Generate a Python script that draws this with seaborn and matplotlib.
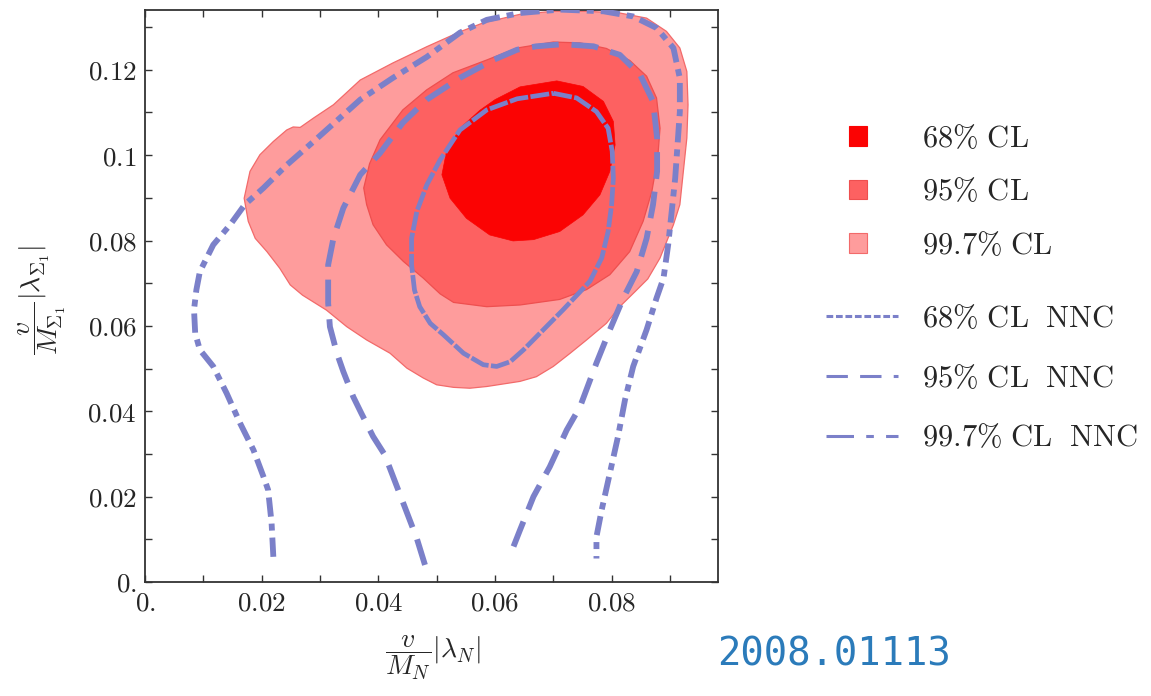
import matplotlib
matplotlib.use("Agg")
import matplotlib.pyplot as plt
from matplotlib.patches import Patch
from matplotlib.lines import Line2D
from matplotlib.ticker import MultipleLocator
import seaborn as sns

# Values
# x = v/M_N |lambda_N|,  y = v/M_Sigma1 |lambda_Sigma1|

# 99.7% CL region (outline)
cl997_x = [0.0170, 0.0180, 0.0197, 0.0220, 0.0243, 0.0254, 0.0266, 0.0289, 0.0323, 0.0369,
           0.0425, 0.0483, 0.0540, 0.0580, 0.0643, 0.0700, 0.0757, 0.0814, 0.0860, 0.0894,
           0.0917, 0.0929, 0.0931, 0.0929, 0.0923, 0.0917, 0.0906, 0.0883, 0.0862, 0.0840,
           0.0814, 0.0791, 0.0757, 0.0729, 0.0700, 0.0671, 0.0643, 0.0586, 0.0557, 0.0529,
           0.0500, 0.0477, 0.0449, 0.0420, 0.0380, 0.0346, 0.0311, 0.0270, 0.0249, 0.0231,
           0.0209, 0.0189, 0.0177]
cl997_y = [0.0899, 0.0962, 0.1001, 0.1032, 0.1059, 0.1066, 0.1065, 0.1087, 0.1118, 0.1176,
           0.1216, 0.1254, 0.1289, 0.1310, 0.1330, 0.1337, 0.1337, 0.1333, 0.1321, 0.1290,
           0.1251, 0.1196, 0.1118, 0.1040, 0.0962, 0.0884, 0.0837, 0.0759, 0.0710, 0.0680,
           0.0645, 0.0606, 0.0567, 0.0536, 0.0505, 0.0481, 0.0470, 0.0458, 0.0454, 0.0456,
           0.0462, 0.0478, 0.0501, 0.0536, 0.0567, 0.0598, 0.0637, 0.0672, 0.0696, 0.0735,
           0.0774, 0.0805, 0.0845]

# 95% CL region
cl95_x = [0.0375, 0.0385, 0.0403, 0.0442, 0.0483, 0.0528, 0.0586, 0.0638, 0.0700, 0.0746,
          0.0791, 0.0831, 0.0860, 0.0877, 0.0883, 0.0879, 0.0869, 0.0854, 0.0831, 0.0797,
          0.0757, 0.0711, 0.0643, 0.0586, 0.0529, 0.0506, 0.0477, 0.0443, 0.0414, 0.0391,
          0.0380]
cl95_y = [0.0923, 0.0980, 0.1036, 0.1106, 0.1153, 0.1193, 0.1223, 0.1251, 0.1265, 0.1263,
          0.1250, 0.1222, 0.1185, 0.1134, 0.1063, 0.0993, 0.0915, 0.0845, 0.0774, 0.0720,
          0.0685, 0.0662, 0.0649, 0.0645, 0.0655, 0.0675, 0.0712, 0.0751, 0.0790, 0.0837,
          0.0884]

# 68% CL region
cl68_x = [0.0509, 0.0517, 0.0540, 0.0574, 0.0600, 0.0643, 0.0706, 0.0751, 0.0786, 0.0803,
          0.0806, 0.0797, 0.0780, 0.0751, 0.0711, 0.0666, 0.0631, 0.0591, 0.0551, 0.0523]
cl68_y = [0.0954, 0.1009, 0.1063, 0.1105, 0.1130, 0.1160, 0.1174, 0.1161, 0.1126, 0.1079,
          0.1024, 0.0962, 0.0907, 0.0860, 0.0821, 0.0802, 0.0799, 0.0813, 0.0852, 0.0899]

# 68% CL NNC (closed curve)
nnc68_x = [0.0700, 0.0740, 0.0774, 0.0794, 0.0801, 0.0803, 0.0800, 0.0794, 0.0783, 0.0763,
           0.0746, 0.0717, 0.0683, 0.0649, 0.0626, 0.0603, 0.0580, 0.0546, 0.0511, 0.0489,
           0.0471, 0.0462, 0.0457, 0.0457, 0.0466, 0.0483, 0.0506, 0.0540, 0.0586, 0.0638,
           0.0700]
nnc68_y = [0.1145, 0.1134, 0.1102, 0.1063, 0.1009, 0.0946, 0.0884, 0.0821, 0.0759, 0.0705,
           0.0680, 0.0638, 0.0591, 0.0544, 0.0516, 0.0505, 0.0509, 0.0536, 0.0580, 0.0606,
           0.0645, 0.0684, 0.0743, 0.0805, 0.0868, 0.0930, 0.0989, 0.1059, 0.1106, 0.1132,
           0.1145]

# 95% CL NNC
nnc95_x = [0.0480, 0.0466, 0.0443, 0.0411, 0.0391, 0.0371, 0.0357, 0.0340, 0.0329, 0.0317,
           0.0314, 0.0314, 0.0323, 0.0340, 0.0369, 0.0403, 0.0442, 0.0483, 0.0540, 0.0597,
           0.0638, 0.0671, 0.0717, 0.0769, 0.0814, 0.0849, 0.0871, 0.0878, 0.0878, 0.0871,
           0.0860, 0.0843, 0.0820, 0.0797, 0.0774, 0.0746, 0.0723, 0.0694, 0.0666, 0.0643,
           0.0626]
nnc95_y = [0.0040, 0.0102, 0.0184, 0.0298, 0.0341, 0.0395, 0.0434, 0.0493, 0.0536, 0.0598,
           0.0653, 0.0743, 0.0805, 0.0876, 0.0954, 0.1005, 0.1076, 0.1130, 0.1181, 0.1223,
           0.1247, 0.1255, 0.1260, 0.1255, 0.1235, 0.1188, 0.1126, 0.1040, 0.0962, 0.0884,
           0.0805, 0.0727, 0.0665, 0.0591, 0.0513, 0.0411, 0.0356, 0.0270, 0.0200, 0.0122,
           0.0063]

# 99.7% CL NNC
nnc997_x = [0.0220, 0.0217, 0.0211, 0.0203, 0.0186, 0.0163, 0.0140, 0.0117, 0.0094, 0.0086,
            0.0084, 0.0088, 0.0094, 0.0117, 0.0146, 0.0171, 0.0203, 0.0243, 0.0289, 0.0334,
            0.0369, 0.0425, 0.0483, 0.0540, 0.0586, 0.0643, 0.0711, 0.0786, 0.0837, 0.0877,
            0.0906, 0.0917, 0.0917, 0.0913, 0.0909, 0.0903, 0.0897, 0.0889, 0.0877, 0.0860,
            0.0837, 0.0823, 0.0811, 0.0797, 0.0783, 0.0774, 0.0774]
nnc997_y = [0.0059, 0.0138, 0.0216, 0.0247, 0.0309, 0.0372, 0.0442, 0.0505, 0.0544, 0.0583,
            0.0638, 0.0684, 0.0727, 0.0790, 0.0837, 0.0884, 0.0923, 0.0977, 0.1032, 0.1087,
            0.1130, 0.1181, 0.1230, 0.1287, 0.1317, 0.1333, 0.1341, 0.1337, 0.1325, 0.1298,
            0.1251, 0.1180, 0.1102, 0.1024, 0.0946, 0.0868, 0.0790, 0.0712, 0.0665, 0.0591,
            0.0505, 0.0427, 0.0341, 0.0255, 0.0169, 0.0106, 0.0055]

xticks = [0, 0.02, 0.04, 0.06, 0.08]
xtick_labels = ["0.", "0.02", "0.04", "0.06", "0.08"]
yticks = [0, 0.02, 0.04, 0.06, 0.08, 0.1, 0.12]
ytick_labels = ["0.", "0.02", "0.04", "0.06", "0.08", "0.1", "0.12"]

fill_labels = ["68% CL", "95% CL", "99.7% CL"]
nnc_labels = ["68% CL  NNC", "95% CL  NNC", "99.7% CL  NNC"]

# colours
c68, c95, c997 = "#fb0303", "#fd6161", "#fe9c9c"
nnc_color = "#7b80c9"

sns.set_style("ticks")
plt.rcParams["mathtext.fontset"] = "cm"
plt.rcParams["font.family"] = ["DejaVu Sans"]


def tex(s):
    return "$\\mathrm{" + s.replace("%", "\\%").replace(" ", "\\ ") + "}$"


fig = plt.figure(figsize=(11.51, 6.96), dpi=100)
ax = fig.add_axes([0.126, 0.1638, 0.4976, 0.8218])

# filled confidence regions
ax.fill(cl997_x, cl997_y, facecolor=c997, edgecolor="#f26a6a", lw=0.9, zorder=1)
ax.fill(cl95_x, cl95_y, facecolor=c95, edgecolor="#ee4f4f", lw=0.9, zorder=2)
ax.fill(cl68_x, cl68_y, facecolor=c68, edgecolor=c68, lw=0.5, zorder=3)

# NNC contours
sns.lineplot(x=nnc68_x, y=nnc68_y, sort=False, estimator=None, ax=ax, color=nnc_color,
             lw=3.4, linestyle=(0, (4, 0.5)), zorder=4)
sns.lineplot(x=nnc95_x, y=nnc95_y, sort=False, estimator=None, ax=ax, color=nnc_color,
             lw=4.2, linestyle=(0, (4.6, 2.2)), zorder=4)
sns.lineplot(x=nnc997_x, y=nnc997_y, sort=False, estimator=None, ax=ax, color=nnc_color,
             lw=4.2, linestyle=(0, (3.3, 1.2, 1.2, 1.2)), zorder=4)

ax.set_xlim(0, 0.0982)
ax.set_ylim(0, 0.134)
ax.set_xticks(xticks)
ax.set_xticklabels(["$" + t + "$" for t in xtick_labels])
ax.set_yticks(yticks)
ax.set_yticklabels(["$" + t + "$" for t in ytick_labels])
ax.xaxis.set_minor_locator(MultipleLocator(0.01))
ax.yaxis.set_minor_locator(MultipleLocator(0.01))
ax.tick_params(which="both", direction="in", top=True, right=True, color="#333333", width=1.0)
ax.tick_params(which="major", length=5, labelsize=19.5, pad=6)
ax.tick_params(which="minor", length=5)
for sp in ax.spines.values():
    sp.set_color("#333333")
    sp.set_linewidth(1.3)

ax.set_xlabel(r"$\dfrac{v}{M_N}|\lambda_N|$", fontsize=20)
ax.set_ylabel(r"$\dfrac{v}{M_{\Sigma_1}}|\lambda_{\Sigma_1}|$", fontsize=20)
ax.xaxis.set_label_coords(0.502, -0.09)
ax.yaxis.set_label_coords(-0.135, 0.493)

# legends
fill_handles = [Patch(facecolor=c, edgecolor=e, lw=0.8)
                for c, e in [(c68, c68), (c95, "#ee4f4f"), (c997, "#f26a6a")]]
fig.legend(fill_handles, [tex(s) for s in fill_labels], loc="upper left",
           bbox_to_anchor=(849 / 1151, 0.822), frameon=False, fontsize=22, borderpad=0,
           borderaxespad=0, handlelength=0.6, handleheight=0.6, handletextpad=1.8,
           labelspacing=0.8)

line_handles = [Line2D([], [], color=nnc_color, lw=2.2, linestyle=(0, (2.2, 0.9))),
                Line2D([], [], color=nnc_color, lw=2.2, linestyle=(0, (7, 4))),
                Line2D([], [], color=nnc_color, lw=2.2, linestyle=(0, (9, 4, 2.5, 4)))]
fig.legend(line_handles, [tex(s) for s in nnc_labels], loc="upper left",
           bbox_to_anchor=(826 / 1151, 0.563), frameon=False, fontsize=22, borderpad=0,
           borderaxespad=0, handlelength=2.35, handletextpad=0.78, labelspacing=1.0)

fig.text(717 / 1151, 1 - 655 / 696, "2008.01113", family="DejaVu Sans Mono", fontsize=28,
         color="#2b7bba", ha="left", va="center")

fig.savefig("out.png", dpi=100)
